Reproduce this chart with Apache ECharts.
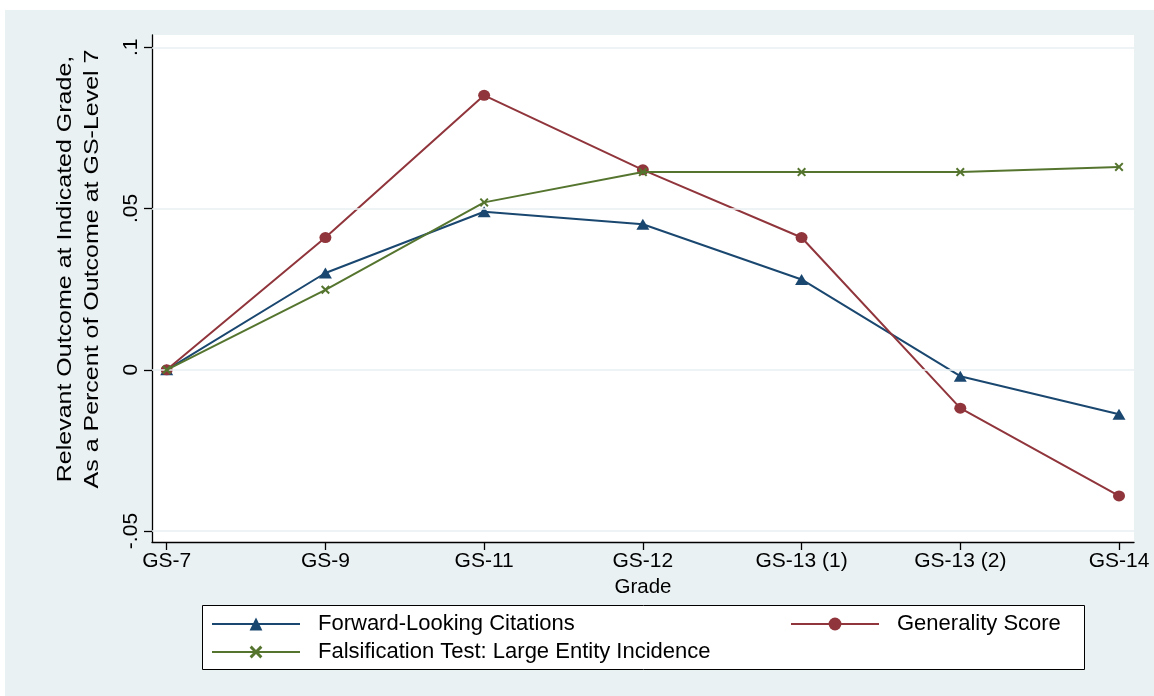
<!DOCTYPE html>
<html>
<head>
<meta charset="utf-8">
<title>Outcomes by grade relative to GS-7</title>
<script src="https://cdn.jsdelivr.net/npm/echarts@6/dist/echarts.min.js"></script>
<style>
  html, body { margin: 0; padding: 0; background: #ffffff; }
  #chart { position: absolute; left: 5px; top: 10px; width: 1149px; height: 686px; }
</style>
</head>
<body>
<div id="chart"></div>
<script>
// Grade steps along the horizontal axis
const grades = ['GS-7', 'GS-9', 'GS-11', 'GS-12', 'GS-13 (1)', 'GS-13 (2)', 'GS-14'];

// Outcome at each grade, relative to the GS-7 level
const forwardCitations = [0, 0.0300, 0.0490, 0.0451, 0.0280, -0.0020, -0.0138];
const generalityScore  = [0, 0.0410, 0.0851, 0.0620, 0.0410, -0.0119, -0.0391];
const largeEntity      = [0, 0.0248, 0.0519, 0.0613, 0.0613, 0.0613, 0.0629];

// Vertical axis ticks
const yTicks = [-0.05, 0, 0.05, 0.1];

const FONT = 'Liberation Sans, Arial, Helvetica, sans-serif';
const BLUE = '#1A476F', RED = '#90353B', GREEN = '#55752F';
const X_MARK = 'path://M0,1.6L1.6,0L5,3.4L8.4,0L10,1.6L6.6,5L10,8.4L8.4,10L5,6.6L1.6,10L0,8.4L3.4,5Z';

const pairs = vals => vals.map((v, i) => [i, v]);
const tickText = v => (v === 0 ? '0' : String(v).replace('0.', '.'));

const legendText = { fontSize: 22, fontFamily: FONT, color: '#000', lineHeight: 22,
                     padding: [0, 0, 0, 13] };

const chart = echarts.init(document.getElementById('chart'));
chart.setOption({
  animation: false,
  backgroundColor: '#EAF1F3',
  textStyle: { fontFamily: FONT, color: '#000' },
  grid: {
    left: 147, top: 25, right: 20, bottom: 154,
    show: true, backgroundColor: '#ffffff', borderWidth: 0
  },
  xAxis: {
    type: 'value',
    min: -0.0926, max: 6.0945,
    name: 'Grade', nameLocation: 'middle', nameGap: 29,
    nameTextStyle: { fontSize: 20.5, color: '#000', fontFamily: FONT },
    axisLine: { show: true, onZero: false, lineStyle: { color: '#000', width: 1.3 } },
    axisTick: { show: true, customValues: grades.map((g, i) => i), length: 8,
                lineStyle: { color: '#000', width: 1.3 } },
    axisLabel: { customValues: grades.map((g, i) => i), formatter: v => grades[v],
                 fontSize: 21, color: '#000', margin: 9, fontFamily: FONT },
    splitLine: { show: false }
  },
  yAxis: {
    type: 'value',
    min: -0.0534, max: 0.1038,
    axisLine: { show: true, onZero: false, lineStyle: { color: '#000', width: 1.3 } },
    axisTick: { show: true, customValues: yTicks, length: 8,
                lineStyle: { color: '#000', width: 1.3 } },
    axisLabel: { customValues: yTicks, formatter: tickText, rotate: 90,
                 fontSize: 21, color: '#000', margin: 10, fontFamily: FONT },
    splitLine: { show: false }
  },
  graphic: [
    { // legend frame
      type: 'rect', z: 0, silent: true,
      shape: { x: 197.5, y: 595.5, width: 882, height: 64 },
      style: { fill: '#ffffff', stroke: '#000', lineWidth: 1 }
    },
    { // two-line vertical axis title, drawn slightly wide along its baseline
      type: 'text', x: 74, y: 259, rotation: Math.PI / 2, scaleX: 1.19, silent: true,
      style: {
        text: 'Relevant Outcome at Indicated Grade,\nAs a Percent of Outcome at GS-Level 7',
        fontSize: 21, fontFamily: FONT, fill: '#000',
        align: 'center', verticalAlign: 'middle', lineHeight: 27
      }
    }
  ],
  legend: [
    {
      orient: 'vertical', left: 201, top: 598,
      itemWidth: 88, itemHeight: 16, itemGap: 6,
      data: ['Forward-Looking Citations', 'Falsification Test: Large Entity Incidence'],
      textStyle: legendText
    },
    {
      orient: 'vertical', left: 780, top: 598,
      itemWidth: 88, itemHeight: 16, itemGap: 6,
      data: ['Generality Score'],
      textStyle: legendText
    }
  ],
  series: [
    { // horizontal reference lines at the y ticks
      type: 'line', data: [], z: 1, silent: true,
      markLine: {
        silent: true, symbol: ['none', 'none'], label: { show: false },
        lineStyle: { color: '#E8F0F2', width: 1.6, type: 'solid' },
        data: yTicks.map(v => ({ yAxis: v }))
      }
    },
    {
      name: 'Forward-Looking Citations', type: 'line', z: 3,
      data: pairs(forwardCitations),
      symbol: 'triangle', symbolSize: [13, 11],
      lineStyle: { color: BLUE, width: 2 }, itemStyle: { color: BLUE }
    },
    {
      name: 'Generality Score', type: 'line', z: 4,
      data: pairs(generalityScore),
      symbol: 'circle', symbolSize: [12, 11],
      lineStyle: { color: RED, width: 2 }, itemStyle: { color: RED }
    },
    {
      name: 'Falsification Test: Large Entity Incidence', type: 'line', z: 5,
      data: pairs(largeEntity),
      symbol: X_MARK, symbolSize: [9, 9],
      lineStyle: { color: GREEN, width: 2 }, itemStyle: { color: GREEN }
    }
  ]
});
</script>
</body>
</html>
